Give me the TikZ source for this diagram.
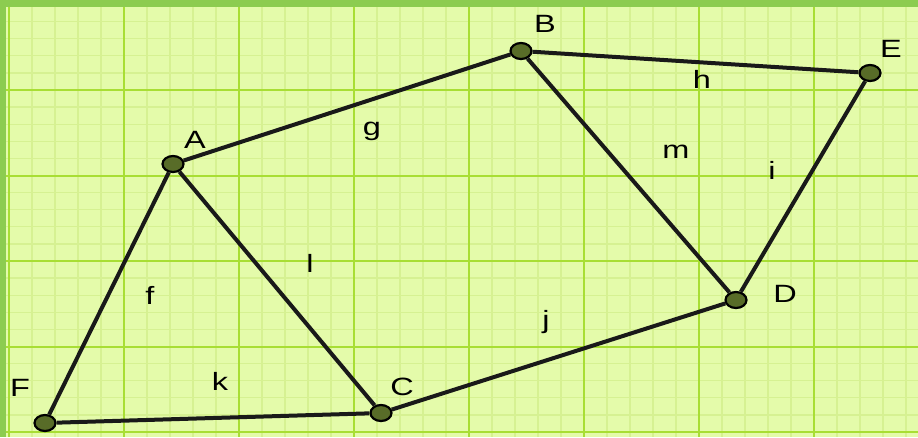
\documentclass[tikz,border=0pt]{standalone}
\usepackage{fontspec}
\setmainfont{Liberation Sans}
\usetikzlibrary{shapes.geometric}

\definecolor{fondo}{RGB}{228,251,170}
\definecolor{menor}{RGB}{214,241,146}
\definecolor{mayor}{RGB}{168,222,52}
\definecolor{borde}{RGB}{140,204,80}
\definecolor{relleno}{RGB}{88,108,40}

% letras algo más anchas, como en la captura
\newcommand{\ancho}[1]{\scalebox{1.3}[1]{#1}}

\begin{document}
\begin{tikzpicture}[x=1pt, y=-1pt,
  vertice/.style={ellipse, draw=black, line width=2.2pt, fill=relleno,
    minimum width=21pt, minimum height=16pt, inner sep=0pt},
  arista/.style={line width=4pt, black!90},
  etiqueta/.style={inner sep=0pt, font=\fontsize{25}{25}\selectfont}]
  % Fondo
  \fill[fondo] (0,0) rectangle (918,437);
  \useasboundingbox (0,0) rectangle (918,437);

  % Cuadrícula fina
  \foreach \k in {0,...,39}
    \draw[menor, line width=1.3pt] ({9+23*\k},0) -- ({9+23*\k},437);
  \foreach \k in {0,...,25}
    \draw[menor, line width=1.3pt] (0,{4.5+17.1*\k}) -- (918,{4.5+17.1*\k});

  % Cuadrícula principal
  \foreach \k in {0,...,7}
    \draw[mayor, line width=2pt] ({9+115*\k},0) -- ({9+115*\k},437);
  \foreach \k in {1,...,5}
    \draw[mayor, line width=2pt] (0,{4.5+85.5*\k}) -- (918,{4.5+85.5*\k});

  % Marco
  \fill[borde] (0,0) rectangle (918,7);
  \fill[borde] (0,0) rectangle (6,437);

  % Vértices
  \node[vertice] (A) at (173,164) {};
  \node[vertice] (B) at (521,51) {};
  \node[vertice] (E) at (870,73) {};
  \node[vertice] (D) at (736,300) {};
  \node[vertice] (C) at (381,413) {};
  \node[vertice] (F) at (45,423) {};

  % Segmentos
  \draw[arista] (A) -- (B);
  \draw[arista] (B) -- (E);
  \draw[arista] (B) -- (D);
  \draw[arista] (E) -- (D);
  \draw[arista] (A) -- (C);
  \draw[arista] (A) -- (F);
  \draw[arista] (F) -- (C);
  \draw[arista] (C) -- (D);

  % Nombres de los puntos
  \node[etiqueta] (nA) at (195,140) {\ancho{A}};
  \node[etiqueta] (nB) at (545,24) {\ancho{B}};
  \node[etiqueta] (nE) at (891,49) {\ancho{E}};
  \node[etiqueta] (nD) at (785,294) {\ancho{D}};
  \node[etiqueta] (nC) at (402,387) {\ancho{C}};
  \node[etiqueta] (nF) at (20,388) {\ancho{F}};

  % Nombres de los segmentos
  \node[etiqueta] (ng) at (372,131) {\ancho{g}};
  \node[etiqueta] (nh) at (702,79) {\ancho{h}};
  \node[etiqueta] (nm) at (676,152) {\ancho{m}};
  \node[etiqueta] (ni) at (772,170) {\ancho{i}};
  \node[etiqueta] (nl) at (310,263) {\ancho{l}};
  \node[etiqueta] (nf) at (150,295) {\ancho{f}};
  \node[etiqueta] (nj) at (546,322) {\ancho{j}};
  \node[etiqueta] (nk) at (220,381) {\ancho{k}};
\end{tikzpicture}
\end{document}
